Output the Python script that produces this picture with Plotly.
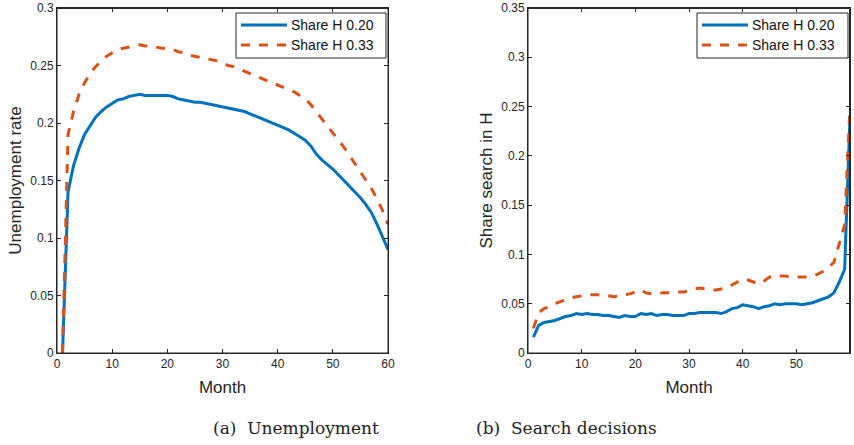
import plotly.graph_objects as go

months = list(range(1, 61))

unemp_020 = [0, 0.14, 0.163, 0.178, 0.19, 0.198, 0.205, 0.21, 0.214, 0.217,
             0.22, 0.221, 0.223, 0.224, 0.225, 0.224, 0.224, 0.224, 0.224, 0.224,
             0.223, 0.221, 0.22, 0.219, 0.218, 0.218, 0.217, 0.216, 0.215, 0.214,
             0.213, 0.212, 0.211, 0.21, 0.208, 0.206, 0.204, 0.202, 0.2, 0.198,
             0.196, 0.194, 0.191, 0.188, 0.185, 0.18, 0.173, 0.168, 0.164, 0.16,
             0.155, 0.15, 0.145, 0.14, 0.135, 0.129, 0.122, 0.112, 0.101, 0.09]
unemp_033 = [0, 0.19, 0.21, 0.225, 0.235, 0.243, 0.249, 0.254, 0.258, 0.261,
             0.264, 0.265, 0.266, 0.267, 0.268, 0.267, 0.267, 0.266, 0.265, 0.265,
             0.264, 0.262, 0.261, 0.259, 0.258, 0.257, 0.256, 0.255, 0.254, 0.252,
             0.25, 0.249, 0.247, 0.245, 0.243, 0.241, 0.239, 0.237, 0.235, 0.233,
             0.231, 0.229, 0.227, 0.224, 0.221, 0.216, 0.21, 0.203, 0.197, 0.191,
             0.185, 0.179, 0.172, 0.165, 0.158, 0.151, 0.143, 0.134, 0.124, 0.112]

search_020 = [0.016, 0.028, 0.031, 0.032, 0.033, 0.035, 0.037, 0.038, 0.040, 0.039,
              0.040, 0.039, 0.039, 0.038, 0.038, 0.037, 0.036, 0.038, 0.037, 0.037,
              0.040, 0.039, 0.040, 0.038, 0.039, 0.039, 0.038, 0.038, 0.038, 0.040,
              0.040, 0.041, 0.041, 0.041, 0.041, 0.040, 0.042, 0.045, 0.046, 0.049,
              0.048, 0.047, 0.045, 0.047, 0.048, 0.050, 0.049, 0.050, 0.050, 0.050,
              0.049, 0.050, 0.051, 0.053, 0.055, 0.057, 0.061, 0.072, 0.085, 0.24]
search_033 = [0.025, 0.041, 0.045, 0.047, 0.050, 0.052, 0.054, 0.056, 0.057, 0.058,
              0.059, 0.059, 0.059, 0.059, 0.058, 0.057, 0.058, 0.059, 0.060, 0.062,
              0.064, 0.061, 0.060, 0.060, 0.061, 0.061, 0.061, 0.062, 0.062, 0.063,
              0.065, 0.066, 0.065, 0.064, 0.064, 0.065, 0.066, 0.069, 0.072, 0.075,
              0.074, 0.072, 0.070, 0.073, 0.077, 0.079, 0.078, 0.078, 0.077, 0.077,
              0.077, 0.077, 0.078, 0.080, 0.083, 0.087, 0.092, 0.11, 0.13, 0.25]

blue = '#0072BD'
orange = '#D95319'

# plot area in reference pixels
W, H = 854, 445
L, R, T, B = 57, 850, 8, 353
def px(x):
    return (x - L) / (R - L)
def py(y):
    return (B - y) / (B - T)

fig = go.Figure()
for xa, ya, s1, s2 in [('x', 'y', unemp_020, unemp_033), ('x2', 'y2', search_020, search_033)]:
    fig.add_trace(go.Scatter(x=months, y=s1, xaxis=xa, yaxis=ya, mode='lines', name='Share H 0.20',
                             line=dict(color=blue, width=3), showlegend=False, cliponaxis=False))
    fig.add_trace(go.Scatter(x=months, y=s2, xaxis=xa, yaxis=ya, mode='lines', name='Share H 0.33',
                             line=dict(color=orange, width=3, dash='dash'), showlegend=False, cliponaxis=False))

ax = dict(showline=True, mirror='ticks', linecolor='#262626', linewidth=1, ticks='inside',
          ticklen=4, tickcolor='#262626', showgrid=False, zeroline=False, automargin=False,
          tickfont=dict(size=12, color='#262626'))
fig.update_layout(
    width=W, height=H, margin=dict(l=L, r=W - R, t=T, b=H - B),
    plot_bgcolor='white', paper_bgcolor='white',
    font=dict(family='Liberation Sans', color='#262626'),
    xaxis=dict(ax, domain=[0, px(388)], range=[0, 60], dtick=10, anchor='y',
               title=dict(text='Month', font=dict(size=17), standoff=10)),
    yaxis=dict(ax, domain=[0, 1], range=[0, 0.3], dtick=0.05, anchor='x',
               tickformat='~g', title=dict(text='Unemployment rate', font=dict(size=17), standoff=4)),
    xaxis2=dict(ax, domain=[px(528), 1], range=[0, 60], dtick=10, anchor='y2',
                title=dict(text='Month', font=dict(size=17), standoff=10)),
    yaxis2=dict(ax, domain=[0, 1], range=[0, 0.35], dtick=0.05, anchor='x2',
                tickformat='~g', title=dict(text='Share search in H', font=dict(size=17), standoff=4)),
)

# axes frames
for x0, x1 in [(0, px(388)), (px(528), px(849.5))]:
    fig.add_shape(type='rect', xref='paper', yref='paper', x0=x0, x1=x1, y0=0, y1=py(8.5),
                  line=dict(color='#262626', width=1))

# legends drawn as boxes with sample lines
for bx0, bx1 in [(236, 386), (697, 848)]:
    fig.add_shape(type='rect', xref='paper', yref='paper', x0=px(bx0), x1=px(bx1), y0=py(58), y1=py(13),
                  line=dict(color='#262626', width=1), fillcolor='white')
    fig.add_shape(type='line', xref='paper', yref='paper', x0=px(bx0 + 5), x1=px(bx0 + 51),
                  y0=py(25), y1=py(25), line=dict(color=blue, width=3))
    fig.add_shape(type='line', xref='paper', yref='paper', x0=px(bx0 + 5), x1=px(bx0 + 51),
                  y0=py(45), y1=py(45), line=dict(color=orange, width=3, dash='dash'))
    for yy, txt in [(25, 'Share H 0.20'), (45, 'Share H 0.33')]:
        fig.add_annotation(xref='paper', yref='paper', x=px(bx0 + 53), y=py(yy), text=txt,
                           showarrow=False, xanchor='left', yanchor='middle',
                           font=dict(size=14, color='#111'))

for xx, txt in [(211, '(a)  Unemployment'), (659, '(b)  Search decisions')]:
    fig.add_annotation(xref='paper', yref='paper', x=px(xx), y=py(428), text=txt, showarrow=False,
                       yanchor='middle', font=dict(family='DejaVu Serif', size=17, color='#222'))

fig.write_html("out.html", config={'displayModeBar': False},
               post_script="document.body.style.margin='0';document.body.style.overflow='hidden';")
